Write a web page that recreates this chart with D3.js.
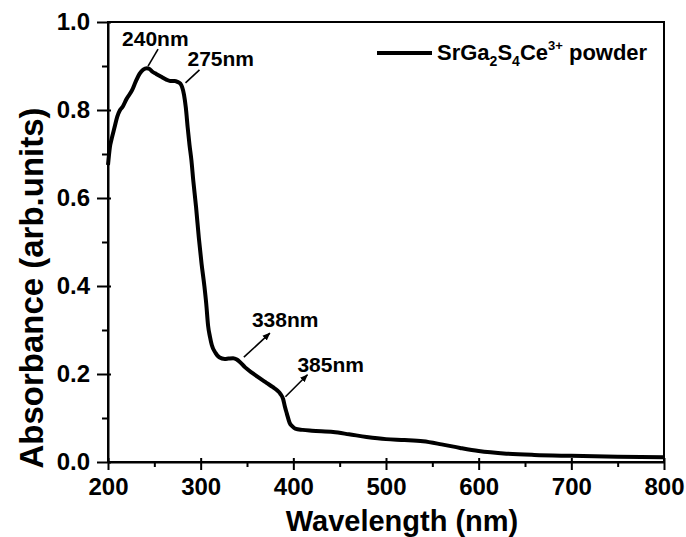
<!DOCTYPE html>
<meta charset="utf-8">
<style>
body { margin: 0; background: #fff; }
text { font-family: "Liberation Sans", Arial, sans-serif; font-weight: bold; fill: #000; }
.axis path, .axis line { stroke: #000; stroke-width: 2px; }
.axis text { font-size: 24px; }
.curve { fill: none; stroke: #000; stroke-width: 4px; stroke-linejoin: round; }
.note { font-size: 21px; }
.pointer { stroke: #000; stroke-width: 1.6px; }
</style>
<body>
<script src="https://cdnjs.cloudflare.com/ajax/libs/d3/7.8.5/d3.min.js"></script>
<script>

var width = 686,
    height = 537,
    margin = {top: 22, right: 22, bottom: 75, left: 108};

// wavelength (nm) and absorbance
var wavelength = [200, 202, 204, 207, 210, 213, 216, 220, 226, 230, 234, 238, 242, 245, 248, 252, 258, 263, 267, 272, 275, 278, 280, 282, 284, 286, 288, 290, 292, 295, 298, 301, 304, 306, 308, 310, 312, 316, 320, 326, 330, 335, 339, 342, 348, 356, 364, 371, 378, 383, 386, 389, 391, 393, 396, 399, 402, 410, 420, 443, 460, 479, 500, 520, 540, 560, 580, 600, 630, 660, 700, 750, 800];
var absorbance = [0.675, 0.715, 0.735, 0.76, 0.785, 0.8, 0.808, 0.825, 0.845, 0.865, 0.882, 0.892, 0.895, 0.893, 0.887, 0.882, 0.875, 0.869, 0.866, 0.866, 0.864, 0.86, 0.852, 0.835, 0.805, 0.76, 0.72, 0.686, 0.64, 0.58, 0.51, 0.45, 0.40, 0.36, 0.31, 0.285, 0.266, 0.248, 0.238, 0.234, 0.235, 0.236, 0.233, 0.228, 0.215, 0.202, 0.19, 0.18, 0.17, 0.162, 0.155, 0.143, 0.125, 0.11, 0.089, 0.081, 0.076, 0.073, 0.071, 0.068, 0.063, 0.057, 0.052, 0.05, 0.047, 0.04, 0.032, 0.025, 0.019, 0.016, 0.014, 0.012, 0.011];

var xTicks = [200, 300, 400, 500, 600, 700, 800],
    yTicks = [0.0, 0.2, 0.4, 0.6, 0.8, 1.0];

// marked peaks
var peaks = ["240nm", "275nm", "338nm", "385nm"],
    peakX = [240, 275, 338, 385],
    peakY = [0.895, 0.864, 0.236, 0.155];

var x = d3.scaleLinear().domain([200, 800]).range([margin.left, width - margin.right]);
var y = d3.scaleLinear().domain([0, 1]).range([height - margin.bottom, margin.top]);

var svg = d3.select("body").append("svg")
    .attr("width", width)
    .attr("height", height);

// frame
svg.append("rect")
    .attr("x", x(200)).attr("y", y(1))
    .attr("width", x(800) - x(200)).attr("height", y(0) - y(1))
    .attr("fill", "none").attr("stroke", "#000").attr("stroke-width", 2);

// minor ticks
svg.append("g").attr("class", "axis")
    .attr("transform", "translate(0," + y(0) + ")")
    .call(d3.axisBottom(x).tickValues(d3.range(250, 800, 100)).tickSize(5).tickFormat(""))
    .select(".domain").remove();
svg.append("g").attr("class", "axis")
    .attr("transform", "translate(" + x(200) + ",0)")
    .call(d3.axisLeft(y).tickValues([0.1, 0.3, 0.5, 0.7, 0.9]).tickSize(6).tickFormat(""))
    .select(".domain").remove();

// major ticks
var xAxis = svg.append("g").attr("class", "axis")
    .attr("transform", "translate(0," + y(0) + ")")
    .call(d3.axisBottom(x).tickValues(xTicks).tickSizeInner(8).tickSizeOuter(0).tickPadding(8).tickFormat(d3.format("d")));
xAxis.selectAll(".tick line").attr("y1", -4);

var yAxis = svg.append("g").attr("class", "axis")
    .attr("transform", "translate(" + x(200) + ",0)")
    .call(d3.axisLeft(y).tickValues(yTicks).tickSizeInner(11).tickSizeOuter(0).tickPadding(7).tickFormat(d3.format(".1f")));
yAxis.selectAll(".tick line").attr("x1", 3);

// curve
var line = d3.line()
    .x(function(d, i) { return x(wavelength[i]); })
    .y(function(d) { return y(d); })
    .curve(d3.curveMonotoneX);

svg.append("path")
    .datum(absorbance)
    .attr("class", "curve")
    .attr("d", line);

// axis titles
svg.append("text")
    .attr("x", (x(200) + x(800)) / 2 + 16)
    .attr("y", 531)
    .attr("text-anchor", "middle")
    .style("font-size", "29px")
    .text("Wavelength (nm)");

svg.append("text")
    .attr("transform", "translate(43,288) rotate(-90)")
    .attr("text-anchor", "middle")
    .style("font-size", "33px")
    .text("Absorbance (arb.units)");

// annotations
svg.append("defs").append("marker")
    .attr("id", "head")
    .attr("viewBox", "0 0 10 10")
    .attr("refX", 9).attr("refY", 5)
    .attr("markerWidth", 5).attr("markerHeight", 5)
    .attr("orient", "auto")
  .append("path")
    .attr("d", "M0,1L10,5L0,9Z");

// offsets from the curve point: pointer start, pointer end, label
var startDX = [3, 8, 8, 6],
    startDY = [-2, 1, -1, 3],
    endDX = [13, 22, 34, 28],
    endDY = [-19, -12, -25, -19],
    labDX = [-23, 10, 16, 18],
    labDY = [-22, -16, -31, -22];

peaks.forEach(function(p, i) {
  var px = x(peakX[i]),
      py = y(peakY[i]);
  svg.append("line")
      .attr("class", "pointer")
      .attr("x1", px + startDX[i]).attr("y1", py + startDY[i])
      .attr("x2", px + endDX[i]).attr("y2", py + endDY[i])
      .attr("marker-end", i >= 2 ? "url(#head)" : null);
  svg.append("text")
      .attr("class", "note")
      .attr("x", px + labDX[i])
      .attr("y", py + labDY[i])
      .text(p);
});

// legend
svg.append("line")
    .attr("x1", 377).attr("x2", 432)
    .attr("y1", 53).attr("y2", 53)
    .attr("stroke", "#000").attr("stroke-width", 4);

var leg = svg.append("text")
    .attr("x", 437).attr("y", 60)
    .style("font-size", "22px");
leg.append("tspan").text("SrGa");
leg.append("tspan").attr("dy", 6).style("font-size", "14px").text("2");
leg.append("tspan").attr("dy", -6).text("S");
leg.append("tspan").attr("dy", 6).style("font-size", "14px").text("4");
leg.append("tspan").attr("dy", -6).text("Ce");
leg.append("tspan").attr("dy", -10).style("font-size", "13px").text("3+");
leg.append("tspan").attr("dy", 10).text(" powder");

</script>
